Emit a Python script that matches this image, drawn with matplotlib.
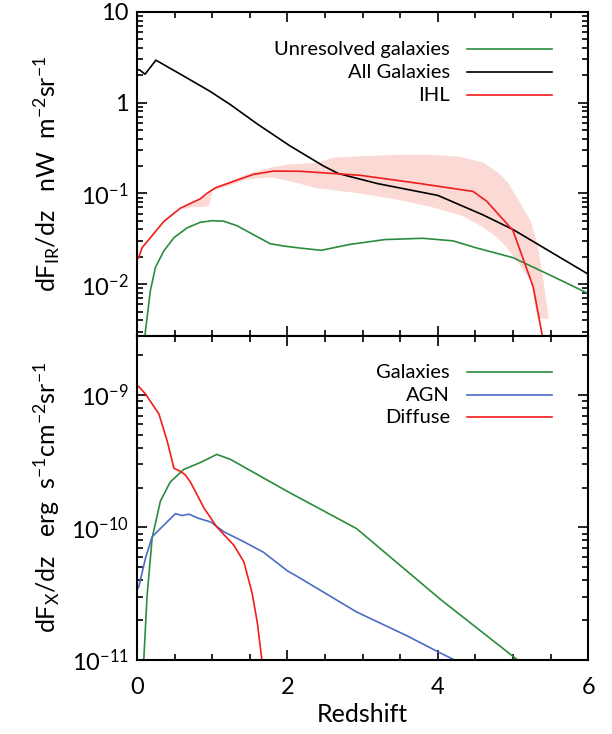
import matplotlib
matplotlib.use("Agg")
import matplotlib.pyplot as plt
from matplotlib.ticker import MultipleLocator, LogLocator, NullFormatter

plt.rcParams['font.family'] = ['Lato', 'DejaVu Sans']
plt.rcParams['mathtext.default'] = 'regular'

# --- top panel: IR background contribution per unit redshift ---
z_all = [0.0, 0.03, 0.106, 0.25, 0.6, 0.97, 1.24, 1.6, 2.03, 2.48, 2.68, 3.2, 4.0, 4.6, 5.0, 6.0]
ir_all = [2.28, 2.3, 2.05, 2.93, 2.0, 1.33, 0.95, 0.58, 0.335, 0.2, 0.165, 0.128, 0.095, 0.058, 0.040, 0.0129]

z_unres = [0.10, 0.11, 0.177, 0.244, 0.355, 0.49, 0.665, 0.84, 1.0, 1.15, 1.33, 1.55, 1.77, 1.95, 2.2, 2.45,
           2.83, 3.3, 3.8, 4.2, 4.52, 5.0, 5.5, 6.0]
ir_unres = [0.002, 0.003, 0.0085, 0.0153, 0.0232, 0.0325, 0.0417, 0.048, 0.050, 0.0494, 0.044, 0.035, 0.0279,
            0.0263, 0.0248, 0.0236, 0.0274, 0.031, 0.032, 0.030, 0.025, 0.0196, 0.0125, 0.0079]

z_ihl = [0.0, 0.022, 0.066, 0.177, 0.355, 0.576, 0.84, 0.93, 1.04, 1.33, 1.55, 1.82, 2.17, 2.97, 3.77, 4.47,
         4.65, 5.0, 5.27, 5.39, 5.42]
ir_ihl = [0.0188, 0.0196, 0.0252, 0.0325, 0.049, 0.0687, 0.087, 0.1, 0.115, 0.14, 0.162, 0.176, 0.175, 0.158,
          0.128, 0.105, 0.082, 0.039, 0.0093, 0.0027, 0.002]

z_band = [0.0, 0.3, 0.55, 0.7, 0.9, 0.95, 1.0, 1.3, 1.46, 1.77, 2.0, 2.39, 2.6, 3.0, 3.5, 3.9, 4.3, 4.6, 4.8,
          4.92, 5.05, 5.23, 5.32, 5.4, 5.47]
band_lo = [0.0188, 0.045, 0.066, 0.071, 0.072, 0.074, 0.108, 0.13, 0.145, 0.152, 0.14, 0.115, 0.11, 0.1, 0.085,
           0.072, 0.058, 0.043, 0.032, 0.025, 0.018, 0.011, 0.0042, 0.0042, 0.0042]
band_hi = [0.0188, 0.045, 0.066, 0.078, 0.094, 0.1, 0.113, 0.145, 0.165, 0.195, 0.21, 0.22, 0.25, 0.26, 0.27,
           0.27, 0.255, 0.22, 0.17, 0.135, 0.09, 0.05, 0.028, 0.011, 0.0042]

# --- bottom panel: X-ray background contribution per unit redshift ---
z_xgal = [0.08, 0.089, 0.133, 0.2, 0.31, 0.44, 0.62, 0.84, 0.93, 1.06, 1.24, 2.0, 2.92, 4.03, 5.06, 5.08]
x_gal = [7e-12, 1e-11, 3.04e-11, 8.3e-11, 1.58e-10, 2.2e-10, 2.74e-10, 3.09e-10, 3.27e-10, 3.56e-10, 3.27e-10,
         1.87e-10, 9.8e-11, 2.88e-11, 1e-11, 9.8e-12]

z_agn = [0.0, 0.022, 0.11, 0.2, 0.355, 0.51, 0.6, 0.69, 0.82, 0.98, 1.15, 1.42, 1.68, 2.0, 2.12, 2.92, 3.59,
         4.03, 4.22, 4.25]
x_agn = [3.4e-11, 3.55e-11, 5.8e-11, 8.5e-11, 1.04e-10, 1.27e-10, 1.23e-10, 1.26e-10, 1.17e-10, 1.1e-10,
         9.3e-11, 7.8e-11, 6.5e-11, 4.7e-11, 4.3e-11, 2.3e-11, 1.52e-11, 1.13e-11, 1.0e-11, 9.7e-12]

z_diff = [0.0, 0.022, 0.11, 0.29, 0.4, 0.49, 0.57, 0.64, 0.71, 0.89, 1.06, 1.29, 1.42, 1.53, 1.6, 1.66, 1.68]
x_diff = [1.17e-9, 1.16e-9, 1.02e-9, 7.2e-10, 4.5e-10, 2.8e-10, 2.66e-10, 2.5e-10, 2.2e-10, 1.4e-10, 1.01e-10,
          7.3e-11, 5.5e-11, 3.2e-11, 1.9e-11, 1.0e-11, 8e-12]

GREEN = '#2b8c3e'
RED = '#f21c1c'
BLUE = '#4a6cc4'
PINK = '#fbd9d5'

fig, (ax1, ax2) = plt.subplots(2, 1, figsize=(6.12, 7.34), dpi=100, sharex=True)
fig.subplots_adjust(left=0.224, right=0.961, top=0.984, bottom=0.101, hspace=0)

lw = 1.2
ax1.fill_between(z_band, band_lo, band_hi, color=PINK, lw=0)
ax1.plot(z_unres, ir_unres, color=GREEN, lw=lw)
ax1.plot(z_all, ir_all, color='black', lw=lw)
ax1.plot(z_ihl, ir_ihl, color=RED, lw=lw)
ax1.set_yscale('log')
ax1.set_ylim(2.7e-3, 10)
ax1.set_yticks([1e-2, 1e-1, 1, 10])
ax1.set_yticklabels(['10$^{-2}$', '10$^{-1}$', '1', '10'])
ax1.set_ylabel('dF$_{IR}$/dz   nW  m$^{-2}$sr$^{-1}$', fontsize=18, labelpad=6)

ax2.plot(z_xgal, x_gal, color=GREEN, lw=lw)
ax2.plot(z_agn, x_agn, color=BLUE, lw=lw)
ax2.plot(z_diff, x_diff, color=RED, lw=lw)
ax2.set_yscale('log')
ax2.set_ylim(1e-11, 2.8e-9)
ax2.set_yticks([1e-11, 1e-10, 1e-9])
ax2.set_yticklabels(['10$^{-11}$', '10$^{-10}$', '10$^{-9}$'])
ax2.set_ylabel('dF$_{X}$/dz   erg  s$^{-1}$cm$^{-2}$sr$^{-1}$', fontsize=18, labelpad=6)
ax2.set_xlabel('Redshift', fontsize=18, labelpad=4)

ax2.set_xlim(0, 6)
ax2.xaxis.set_major_locator(MultipleLocator(2))
ax2.xaxis.set_minor_locator(MultipleLocator(0.5))

for ax in (ax1, ax2):
    ax.yaxis.set_minor_locator(LogLocator(base=10, subs=range(2, 10)))
    ax.yaxis.set_minor_formatter(NullFormatter())
    ax.tick_params(which='both', direction='in', top=True, right=True, width=1.2)
    ax.tick_params(which='major', length=7, labelsize=17)
    ax.tick_params(which='minor', length=4)
    ax.tick_params(axis='y', which='major', pad=6)
    ax.tick_params(axis='x', which='major', pad=12)
    for s in ax.spines.values():
        s.set_linewidth(1.5)

# legends drawn as text + line segments, right aligned like the original
def legend_rows(ax, labels, colors, ys):
    for lab, c, y in zip(labels, colors, ys):
        ax.text(0.694, y, lab, transform=ax.transAxes, ha='right', va='center', fontsize=14.5)
        ax.plot([0.732, 0.920], [y, y], transform=ax.transAxes, color=c, lw=lw)

legend_rows(ax1, ['Unresolved galaxies', 'All Galaxies', 'IHL'], [GREEN, 'black', RED], [0.884, 0.813, 0.743])
legend_rows(ax2, ['Galaxies', 'AGN', 'Diffuse'], [GREEN, BLUE, RED], [0.888, 0.816, 0.748])

fig.align_ylabels([ax1, ax2])
fig.savefig('out.png', dpi=100)
